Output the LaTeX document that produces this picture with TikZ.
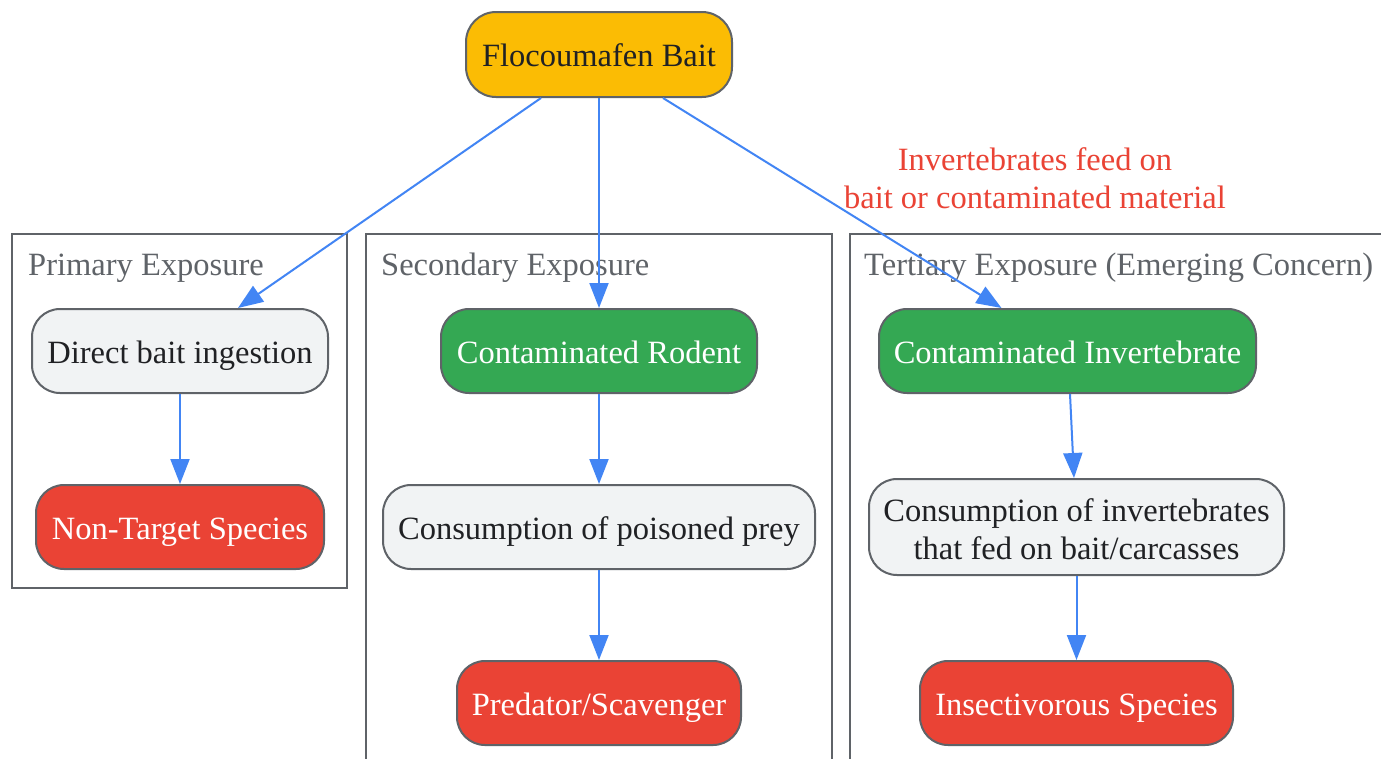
\documentclass[tikz,border=0pt]{standalone}
\usepackage{fontspec}
\setmainfont{Liberation Serif}
\usetikzlibrary{arrows.meta,calc}
\definecolor{cyellow}{HTML}{FBBC04}
\definecolor{cgreen}{HTML}{34A853}
\definecolor{cred}{HTML}{EA4335}
\definecolor{clight}{HTML}{F1F3F4}
\definecolor{cborder}{HTML}{5F6368}
\definecolor{cblue}{HTML}{4285F4}
\definecolor{ctext}{HTML}{202124}
\tikzset{
  box/.style={draw=cborder, line width=2pt, rounded corners=28pt, inner sep=0pt, align=center,
    font=\fontsize{32.5}{38}\selectfont},
  oneline/.style={text height=24pt, text depth=0pt},
  lightbox/.style={box, fill=clight, text=ctext},
  greenbox/.style={box, fill=cgreen, text=white},
  redbox/.style={box, fill=cred, text=white},
  yellowbox/.style={box, fill=cyellow, text=ctext},
  cluster/.style={draw=cborder, line width=2pt},
  clusterlabel/.style={anchor=base west, text=cborder, inner sep=0pt, font=\fontsize{32.5}{38}\selectfont},
  edgelabel/.style={text=cred, align=center, inner sep=0pt, font=\fontsize{32.5}{38}\selectfont},
  flow/.style={draw=cblue, line width=2pt, -{Triangle[length=25pt,width=19pt]}},
}
\begin{document}
\begin{tikzpicture}[x=1pt,y=-1pt]
\clip (0,0) rectangle (1381,758);
\fill[white] (0,0) rectangle (1381,758);
% clusters
\draw[cluster] (12,234) rectangle (347,588);
\draw[cluster] (366,234) rectangle (832,790);
\draw[cluster] (850,234) rectangle (1400,790);
\node[clusterlabel] (lp) at (28,275) {Primary Exposure};
\node[clusterlabel] (ls) at (381,275) {Secondary Exposure};
\node[clusterlabel] (lt) at (864,275) {Tertiary Exposure (Emerging Concern)};
% nodes
\node[yellowbox, oneline, minimum width=266pt, minimum height=85pt, rounded corners=30pt] (bait) at (599,54.5) {Flocoumafen Bait};
\node[lightbox, oneline, minimum width=296pt, minimum height=84pt] (dbi) at (180,351) {Direct bait ingestion};
\node[redbox, oneline, minimum width=288pt, minimum height=84pt] (nts) at (180,527) {Non-Target Species};
\node[greenbox, oneline, minimum width=316pt, minimum height=84pt] (rod) at (599,351) {Contaminated Rodent};
\node[lightbox, oneline, minimum width=432pt, minimum height=84pt] (cpp) at (599,527) {Consumption of poisoned prey};
\node[redbox, oneline, minimum width=284pt, minimum height=84pt] (pred) at (599,703) {Predator/Scavenger};
\node[greenbox, oneline, minimum width=377pt, minimum height=84pt] (inv) at (1067.5,351) {Contaminated Invertebrate};
\node[lightbox, minimum width=415pt, minimum height=96pt] (cinv) at (1076.5,527) {};
\node[font=\fontsize{32.5}{38}\selectfont, text=ctext, align=center, inner sep=0pt] (cinvt) at ($(cinv.center)+(0,2)$) {Consumption of invertebrates\\that fed on bait/carcasses};
\node[redbox, oneline, minimum width=313pt, minimum height=84pt] (ins) at (1076.5,703) {Insectivorous Species};
% edges
\draw[flow] ($(bait.south)+(-58,0)$) -- ($(dbi.north)+(58,0)$);
\draw[flow] (bait.south) -- (rod.north);
\draw[flow] ($(bait.south)+(64,0)$) -- ($(inv.north)+(-66,0)$);
\node[edgelabel] (el) at (1035,178) {Invertebrates feed on\\bait or contaminated material};
\draw[flow] (dbi.south) -- (nts.north);
\draw[flow] (rod.south) -- (cpp.north);
\draw[flow] (cpp.south) -- (pred.north);
\draw[flow] ($(inv.south)+(2.5,0)$) -- ($(cinv.north)+(-2.5,0)$);
\draw[flow] (cinv.south) -- (ins.north);
\end{tikzpicture}
\end{document}
